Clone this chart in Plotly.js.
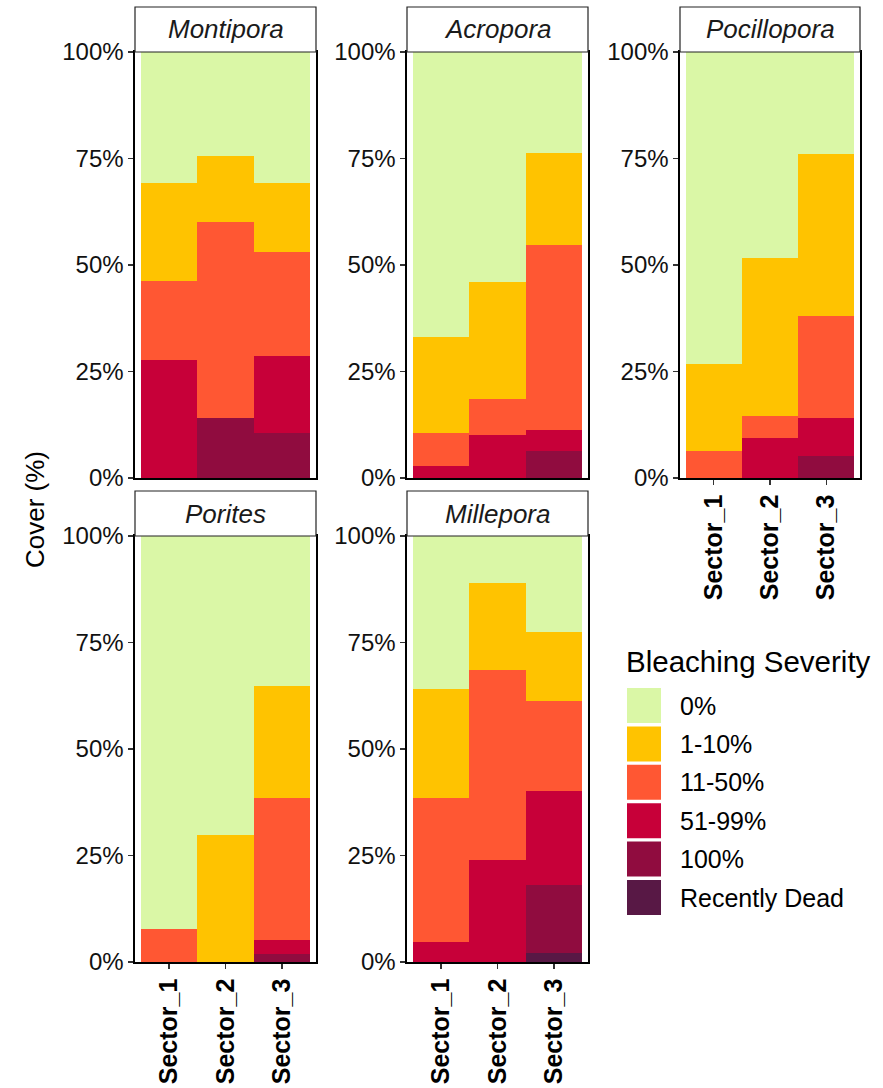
<!DOCTYPE html>
<html>
<head>
<meta charset="utf-8">
<script src="https://cdn.plot.ly/plotly-3.0.1.min.js"></script>
<style>html,body{margin:0;padding:0;background:#fff;}#chart{width:883px;height:1088px;}</style>
</head>
<body>
<div id="chart"></div>
<script>
// ---- data ----
const panels = ['Montipora', 'Acropora', 'Pocillopora', 'Porites', 'Millepora'];
const sectors = ['Sector_1', 'Sector_2', 'Sector_3'];
const severities = ['0%', '1-10%', '11-50%', '51-99%', '100%', 'Recently Dead'];
const severityColors = ['#DAF7A6', '#FFC300', '#FF5733', '#C70039', '#900C3F', '#581845'];
const yTickVals = [0, 25, 50, 75, 100];
const yTickText = ['0%', '25%', '50%', '75%', '100%'];

// rows follow severities order; columns follow sectors (cover %)
const montipora = [
  [30.8, 24.5, 30.8],
  [23.0, 15.5, 16.2],
  [18.5, 45.9, 24.3],
  [27.7, 0.0, 18.2],
  [0.0, 14.1, 10.5],
  [0.0, 0.0, 0.0]
];
const acropora = [
  [67.0, 54.1, 23.7],
  [22.5, 27.4, 21.7],
  [7.6, 8.3, 43.3],
  [2.9, 10.2, 4.9],
  [0.0, 0.0, 6.4],
  [0.0, 0.0, 0.0]
];
const pocillopora = [
  [73.3, 48.4, 24.0],
  [20.3, 37.0, 37.9],
  [6.4, 5.3, 24.1],
  [0.0, 9.3, 8.9],
  [0.0, 0.0, 5.1],
  [0.0, 0.0, 0.0]
];
const porites = [
  [92.3, 70.3, 35.2],
  [0.0, 29.7, 26.2],
  [7.7, 0.0, 33.5],
  [0.0, 0.0, 3.2],
  [0.0, 0.0, 1.9],
  [0.0, 0.0, 0.0]
];
const millepora = [
  [35.9, 11.1, 22.5],
  [25.5, 20.3, 16.2],
  [33.8, 44.6, 21.1],
  [4.8, 24.0, 22.2],
  [0.0, 0.0, 15.9],
  [0.0, 0.0, 2.1]
];
const panelData = [montipora, acropora, pocillopora, porites, millepora];

// ---- layout helpers ----
const W = 883, H = 1088;
const colX = [[135, 316], [407, 588], [680, 860]];
const rowY = [[52, 478], [536, 962]];      // plot area top/bottom (px)
const stripH = 45;
const panelPos = [[0, 0], [0, 1], [0, 2], [1, 0], [1, 1]]; // [row, col]
const showXLabels = [false, false, true, true, true];
const FONT = 'Liberation Sans, Arial, sans-serif';

const px = x => x / W;
const py = y => 1 - y / H;

const traces = [];
const layout = {
  width: W, height: H,
  margin: {l: 0, r: 0, t: 0, b: 0},
  paper_bgcolor: '#ffffff',
  plot_bgcolor: '#ffffff',
  barmode: 'stack',
  bargap: 0,
  showlegend: false,
  font: {family: FONT, color: '#000'},
  shapes: [],
  annotations: []
};

panels.forEach((name, p) => {
  const ax = p === 0 ? '' : String(p + 1);
  const [r, c] = panelPos[p];
  const data = panelData[p];
  // stack bottom-up: last severity at bottom
  for (let s = severities.length - 1; s >= 0; s--) {
    traces.push({
      type: 'bar',
      x: sectors,
      y: data[s],
      name: severities[s],
      xaxis: 'x' + ax,
      yaxis: 'y' + ax,
      width: 1,
      marker: {color: severityColors[s], line: {width: 0}},
      showlegend: false,
      hoverinfo: 'x+y+name'
    });
  }
  layout['xaxis' + ax] = {
    domain: [px(colX[c][0]), px(colX[c][1])],
    anchor: 'y' + ax,
    type: 'category',
    categoryarray: sectors,
    range: [-0.6, 2.6],
    showgrid: false, zeroline: false,
    showline: true, linecolor: '#000', linewidth: 1.6, mirror: true,
    ticks: showXLabels[p] ? 'outside' : '',
    ticklen: 5, tickcolor: '#333', tickwidth: 1.3,
    showticklabels: showXLabels[p],
    tickangle: -90,
    tickfont: {family: FONT, size: 25, color: '#000', weight: 'bold'},
    fixedrange: true
  };
  layout['yaxis' + ax] = {
    domain: [py(rowY[r][1]), py(rowY[r][0])],
    anchor: 'x' + ax,
    range: [0, 100],
    tickvals: yTickVals,
    ticktext: yTickText,
    showgrid: false, zeroline: false,
    showline: true, linecolor: '#000', linewidth: 1.6, mirror: true,
    ticks: 'outside', ticklen: 5, tickcolor: '#333', tickwidth: 1.3,
    tickfont: {family: FONT, size: 24, color: '#111'},
    fixedrange: true
  };
  // facet strip
  layout.shapes.push({
    type: 'rect', xref: 'paper', yref: 'paper',
    x0: px(colX[c][0]), x1: px(colX[c][1]),
    y0: py(rowY[r][0]), y1: py(rowY[r][0] - stripH),
    fillcolor: '#ffffff', line: {color: '#222', width: 1.2}
  });
  layout.annotations.push({
    xref: 'paper', yref: 'paper',
    x: px((colX[c][0] + colX[c][1]) / 2), y: py(rowY[r][0] - stripH / 2),
    text: '<i>' + name + '</i>', showarrow: false,
    xanchor: 'center', yanchor: 'middle',
    font: {family: FONT, size: 26, color: '#1a1a1a'}
  });
});

// y axis title
layout.annotations.push({
  xref: 'paper', yref: 'paper', x: px(35), y: py(510),
  text: 'Cover (%)', showarrow: false, textangle: -90,
  xanchor: 'center', yanchor: 'middle',
  font: {family: FONT, size: 26, color: '#000'}
});

// legend (drawn from severities / colors)
layout.annotations.push({
  xref: 'paper', yref: 'paper', x: px(624), y: py(661),
  text: 'Bleaching Severity', showarrow: false,
  xanchor: 'left', yanchor: 'middle',
  font: {family: FONT, size: 29.5, color: '#000'}
});
severities.forEach((lab, i) => {
  const top = 688 + i * 38.4;
  layout.shapes.push({
    type: 'rect', xref: 'paper', yref: 'paper',
    x0: px(627), x1: px(661), y0: py(top + 35), y1: py(top),
    fillcolor: severityColors[i], line: {width: 0}
  });
  layout.annotations.push({
    xref: 'paper', yref: 'paper', x: px(678), y: py(top + 17.5),
    text: lab, showarrow: false, xanchor: 'left', yanchor: 'middle',
    font: {family: FONT, size: 25, color: '#000'}
  });
});

Plotly.newPlot('chart', traces, layout, {displayModeBar: false, staticPlot: true});
</script>
</body>
</html>
